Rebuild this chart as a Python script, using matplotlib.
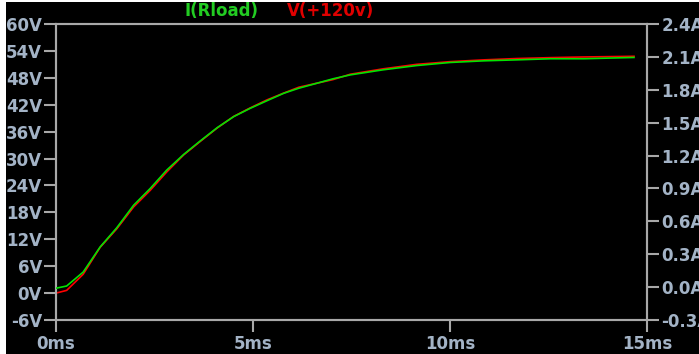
import matplotlib
matplotlib.use("Agg")
import matplotlib.pyplot as plt
from matplotlib.patches import Rectangle

# Data (time in ms)
t_ms = [0, 0.27, 0.69, 1.12, 1.54, 1.97, 2.39, 2.81, 3.24, 3.66, 4.09, 4.51, 4.93,
        5.36, 5.78, 6.16, 7.03, 7.47, 8.3, 9.15, 10.0, 10.85, 11.7, 12.55, 13.4, 14.67]
v_120 = [0, 0.6, 4.2, 10.2, 14.3, 19.2, 22.9, 27.0, 30.8, 33.8, 36.8, 39.4, 41.3,
         43.1, 44.6, 45.9, 47.6, 48.8, 50.0, 51.0, 51.6, 52.0, 52.3, 52.5, 52.65, 52.8]
i_rload = [-0.01, 0.01, 0.137, 0.366, 0.54, 0.747, 0.899, 1.067, 1.21, 1.333, 1.454,
           1.555, 1.631, 1.701, 1.768, 1.814, 1.90, 1.936, 1.982, 2.021, 2.049, 2.064,
           2.073, 2.083, 2.083, 2.095]

x_ticks = [0, 5, 10, 15]
x_labels = ["0ms", "5ms", "10ms", "15ms"]
yl_ticks = [-6, 0, 6, 12, 18, 24, 30, 36, 42, 48, 54, 60]
yl_labels = [f"{v}V" for v in yl_ticks]
yr_ticks = [-0.3, 0.0, 0.3, 0.6, 0.9, 1.2, 1.5, 1.8, 2.1, 2.4]
yr_labels = [f"{v:.1f}A" for v in yr_ticks]

plt.rcParams['font.family'] = ['DejaVu Sans']

W, H = 699, 354
fig = plt.figure(figsize=(W / 100, H / 100), dpi=100, facecolor='black')
ax = fig.add_axes([56 / W, 1 - 320 / H, (647 - 56) / W, (320 - 24) / H])
ax.set_facecolor('black')
ax2 = ax.twinx()

spine_col = '#a8a8a8'
lab_col = '#a3b3c6'

ax.plot(t_ms, v_120, color='#ff0000', lw=1.2, zorder=3)
ax2.plot(t_ms, i_rload, color='#00e400', lw=1.2, zorder=4)

ax.set_xlim(0, 15)
ax.set_ylim(-6, 60)
ax2.set_ylim(-0.3, 2.4)

ax.set_xticks(x_ticks)
ax.set_xticklabels(x_labels)
ax.set_yticks(yl_ticks)
ax.set_yticklabels(yl_labels)
ax2.set_yticks(yr_ticks)
ax2.set_yticklabels(yr_labels)

for a in (ax, ax2):
    for s in a.spines.values():
        s.set_color(spine_col)
        s.set_linewidth(1.5)
    a.tick_params(colors=spine_col, length=8.5, width=1.5, direction='out',
                  labelsize=12, labelcolor=lab_col)
ax.tick_params(axis='y', pad=1.5)
ax.tick_params(axis='x', pad=2)
ax2.tick_params(axis='y', pad=2)
for lab in ax.get_xticklabels() + ax.get_yticklabels() + ax2.get_yticklabels():
    lab.set_fontweight('bold')

fig.text(221 / W, 1 - 11 / H, "I(Rload)", color='#22cc22', fontsize=12,
         fontweight='bold', ha='center', va='center')
fig.text(287 / W, 1 - 11 / H, "V(+120v)", color='#e00000', fontsize=12,
         fontweight='bold', ha='left', va='center')

# white border strips
fig.patches.append(Rectangle((0, 0), 6 / W, 1, transform=fig.transFigure,
                             facecolor='white', edgecolor='none', zorder=10))
fig.patches.append(Rectangle((0, 1 - 2 / H), 1, 2 / H, transform=fig.transFigure,
                             facecolor='white', edgecolor='none', zorder=10))

fig.savefig("out.png", dpi=100, facecolor='black')
